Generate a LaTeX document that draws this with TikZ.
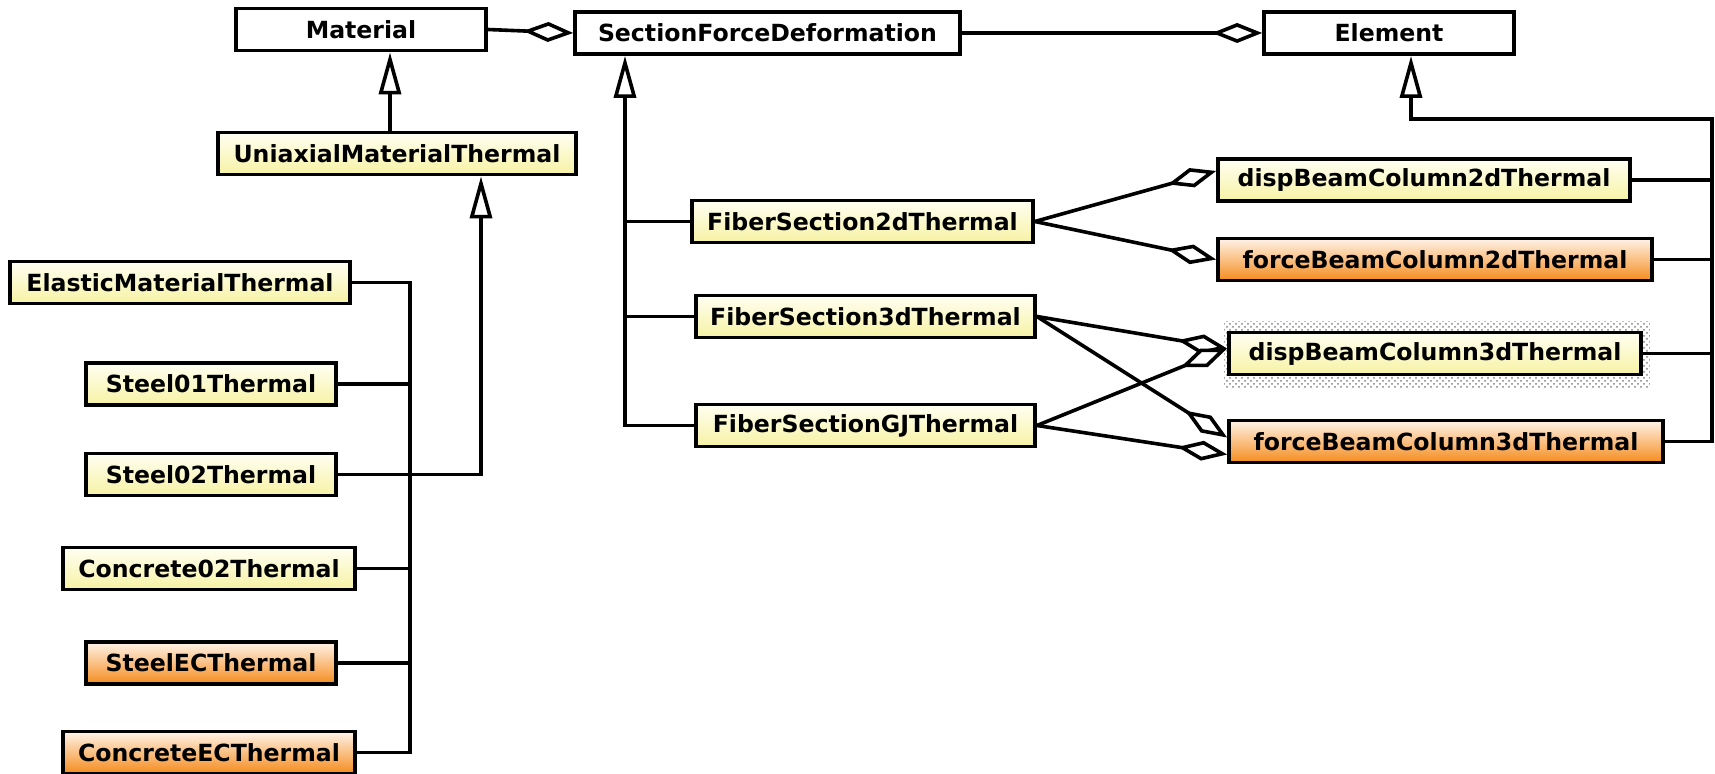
\documentclass[tikz,border=0pt]{standalone}
\usepackage{fontspec}
\newfontfamily\umlfont{DejaVu Sans}
\usepackage{xcolor}
\usetikzlibrary{arrows.meta,calc,backgrounds,patterns}
\definecolor{ytop}{HTML}{FFFFF2}
\definecolor{ybot}{HTML}{F7F2A4}
\definecolor{otop}{HTML}{FFF3E8}
\definecolor{obot}{HTML}{F58C1E}

\begin{document}
\begin{tikzpicture}[
    x=0.5pt, y=-0.5pt,
    font=\umlfont\bfseries\fontsize{11.8}{14}\selectfont,
    box/.style={draw=black, line width=1.9pt, inner sep=0pt, minimum height=21pt},
    plainbox/.style={box, fill=white},
    thermal/.style={box, top color=ytop, bottom color=ybot},
    ecbox/.style={box, top color=otop, bottom color=obot},
    link/.style={line width=1.8pt},
    inherit/.style={link, -{Triangle[fill=white, length=21pt, width=11pt]}},
    aggr/.style={link, -{Diamond[fill=white, length=25pt, width=10pt]}}
]
\useasboundingbox (0,0) rectangle (1715,774);
% base classes
\node[plainbox, minimum width=125pt] (mat) at (361,29.5) {Material};
\node[plainbox, minimum width=192.5pt] (sfd) at (767.5,33) {SectionForceDeformation};
\node[plainbox, minimum width=125pt] (elem) at (1389,33) {Element};
% materials
\node[thermal, minimum width=179pt] (uni) at (397,153.5) {UniaxialMaterialThermal};
\node[thermal, minimum width=170pt] (elastic) at (180,282.5) {ElasticMaterialThermal};
\node[thermal, minimum width=125pt] (steelone) at (211,384) {Steel01Thermal};
\node[thermal, minimum width=125pt] (steeltwo) at (211,474.5) {Steel02Thermal};
\node[thermal, minimum width=146pt] (concretetwo) at (209,568.5) {Concrete02Thermal};
\node[ecbox, minimum width=125pt] (steelec) at (211,663) {SteelECThermal};
\node[ecbox, minimum width=146pt] (concreteec) at (209,752.5) {ConcreteECThermal};
% sections
\node[thermal, minimum width=170.5pt] (fstwo) at (862.5,221.5) {FiberSection2dThermal};
\node[thermal, minimum width=169.5pt] (fsthree) at (865.5,316.5) {FiberSection3dThermal};
\node[thermal, minimum width=169.5pt] (fsgj) at (865.5,425.5) {FiberSectionGJThermal};
% elements
\node[thermal, minimum width=206pt] (dbtwo) at (1424,180) {dispBeamColumn2dThermal};
\node[ecbox, minimum width=217pt] (fbtwo) at (1435,259.5) {forceBeamColumn2dThermal};
\node[thermal, minimum width=206pt] (dbthree) at (1435,353.5) {dispBeamColumn3dThermal};
\node[ecbox, minimum width=217pt] (fbthree) at (1446,441.5) {forceBeamColumn3dThermal};
\begin{scope}[on background layer]
\fill[pattern=crosshatch dots, pattern color=gray] ($(dbthree.north west)+(-3,-9)$) rectangle ($(dbthree.south east)+(7,11)$);
\end{scope}
% bus positions
\coordinate (umx) at (390,0);
\coordinate (sux) at (481,0);
\coordinate (lbus) at (410,0);
\coordinate (sbus) at (625,0);
\coordinate (ex) at (1411,0);
\coordinate (ecorner) at (1712,119);
% aggregation
\draw[aggr] (mat.east) -- (sfd.west);
\draw[aggr] (sfd.east) -- (elem.west);
\draw[aggr] (fstwo.east) -- ($(dbtwo.west)+(0,-9)$);
\draw[aggr] (fstwo.east) -- (fbtwo.west);
\draw[aggr] (fsthree.east) -- ($(dbthree.west)+(0,-5)$);
\draw[aggr] (fsthree.east) -- ($(fbthree.west)+(0,-4)$);
\draw[aggr] (fsgj.east) -- ($(dbthree.west)+(0,-5)$);
\draw[aggr] (fsgj.east) -- ($(fbthree.west)+(0,13)$);
% inheritance
\draw[inherit] (uni.north -| umx) -- (mat.south -| umx);
\draw[inherit] (steeltwo.east) -| (uni.south -| sux);
\draw[link] (elastic.east) -| (concreteec.east -| lbus) -- (concreteec.east);
\foreach \n in {steelone,concretetwo,steelec}
  \draw[link] (\n.east) -- (\n.east -| lbus);
\draw[inherit] (fsgj.west) -| (sfd.south -| sbus);
\foreach \n in {fstwo,fsthree}
  \draw[link] (\n.west) -- (\n.west -| sbus);
\draw[inherit] (fbthree.east) -| (ecorner) -| (elem.south -| ex);
\foreach \n in {dbtwo,fbtwo,dbthree}
  \draw[link] (\n.east) -- (\n.east -| ecorner);
\end{tikzpicture}
\end{document}
